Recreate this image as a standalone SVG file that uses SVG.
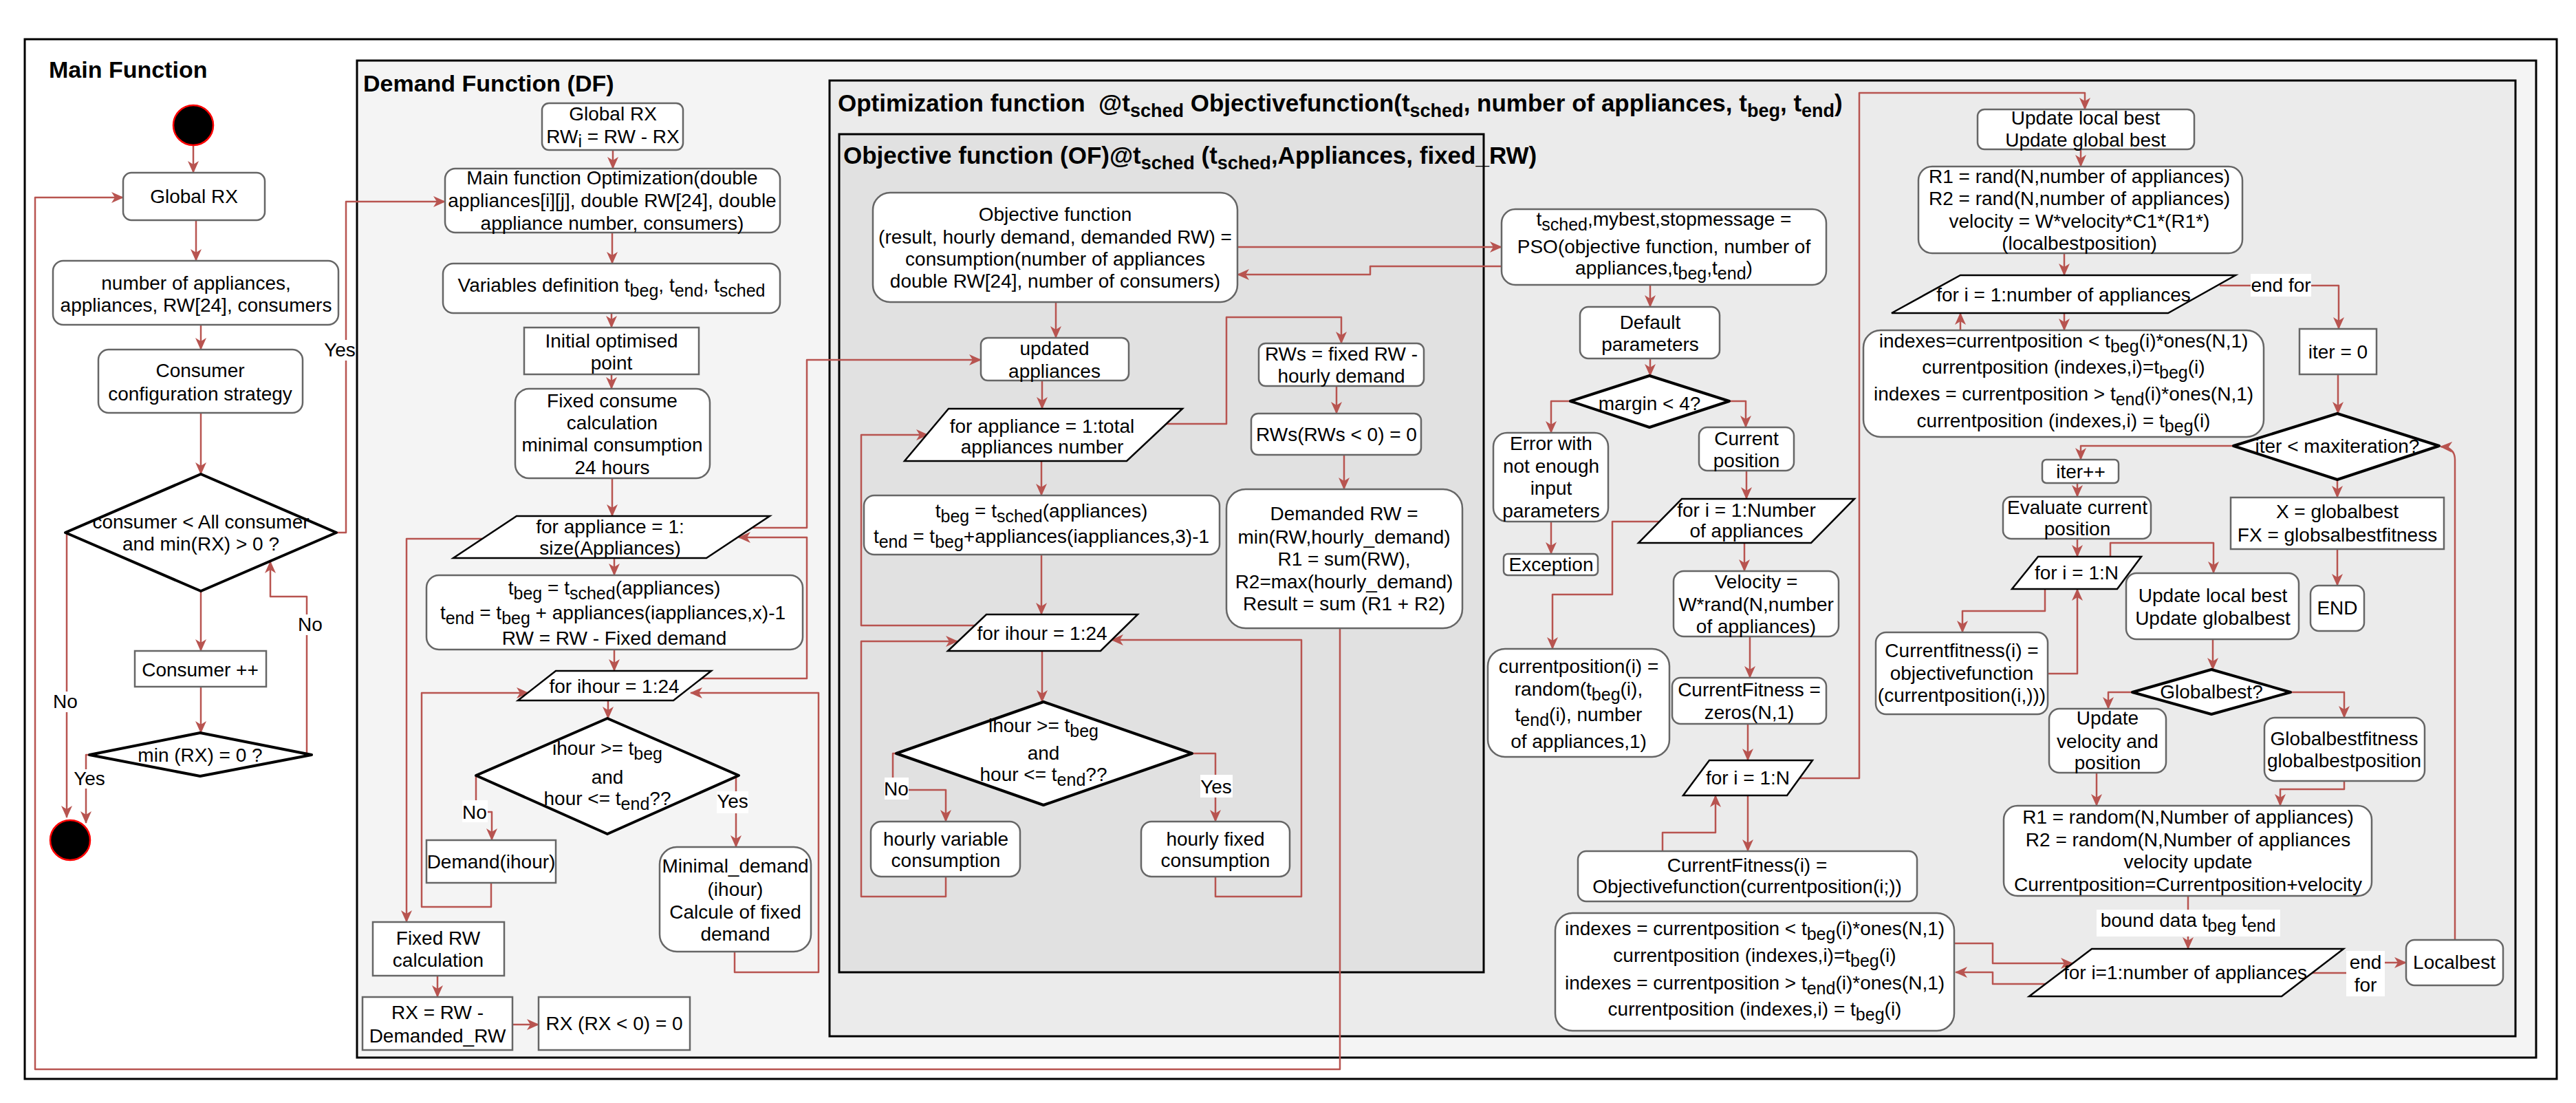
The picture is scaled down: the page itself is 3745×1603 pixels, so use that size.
<svg xmlns="http://www.w3.org/2000/svg" width="3745" height="1603" viewBox="0 0 3745 1603">
<defs>
<marker id="ar" viewBox="0 0 18 16" refX="17" refY="8" markerWidth="18" markerHeight="16" markerUnits="userSpaceOnUse" orient="auto">
<path d="M0,0 L18,8 L0,16 L5,8 z" fill="#b85450"/>
</marker>
<style>
text{font-family:"Liberation Sans",Arial,Helvetica,sans-serif;font-size:28px;fill:#000}
.m{text-anchor:middle}
.s{font-size:25px}
.h{font-weight:bold;font-size:34px}
.h2{font-weight:bold;font-size:35px}
.hs{font-size:27px}
.fr{stroke:#000;stroke-width:3}
.n{fill:#fff;stroke:#666;stroke-width:2.5}
.dm{fill:#fff;stroke:#000;stroke-width:4;stroke-linejoin:round}
.pg{fill:#fff;stroke:#000;stroke-width:2.5}
.c{fill:none;stroke:#b85450;stroke-width:2.5;stroke-linejoin:round;marker-end:url(#ar)}
.l{fill:none;stroke:#b85450;stroke-width:2.5;stroke-linejoin:round}
.lb{fill:#fff}
.term{fill:#000;stroke:#f00;stroke-width:2.5}
</style>
</defs>
<rect width="3745" height="1603" fill="#fff"/>

<g id="frames">
<rect x="36" y="57" width="3681" height="1511" fill="#fff" class="fr"/>
<text x="71" y="113" class="h">Main Function</text>
<rect x="519" y="88" width="3168" height="1449" fill="#f4f4f4" class="fr"/>
<text x="528" y="133" class="h">Demand Function (DF)</text>
<rect x="1206" y="117" width="2451" height="1389" fill="#ebebeb" class="fr"/>
<text x="1218" y="162" class="h2">Optimization function &#160;@t<tspan class="hs" dy="8">sched</tspan><tspan dy="-8"> Objectivefunction(t</tspan><tspan class="hs" dy="8">sched</tspan><tspan dy="-8">, number of appliances, t</tspan><tspan class="hs" dy="8">beg</tspan><tspan dy="-8">, t</tspan><tspan class="hs" dy="8">end</tspan><tspan dy="-8">)</tspan></text>
<rect x="1220" y="195" width="937" height="1218" fill="#e1e1e1" class="fr"/>
<text x="1226" y="238" class="h2">Objective function (OF)@t<tspan class="hs" dy="8">sched</tspan><tspan dy="-8"> (t</tspan><tspan class="hs" dy="8">sched</tspan><tspan dy="-8">,Appliances, fixed_RW)</tspan></text>
</g>

<g id="connectors">
<!-- main -->
<path d="M281,212 V251" class="c"/>
<path d="M285,320 V379" class="c"/>
<path d="M292,472 V508" class="c"/>
<path d="M292,600 V689" class="c"/>
<path d="M292,859 V946" class="c"/>
<path d="M292,998 V1065" class="c"/>
<path d="M453,1097 H446 V867 H393 V816" class="c"/>
<path d="M95,774 H97 V1188" class="c"/>
<path d="M130,1097 H125 V1196" class="c"/>
<path d="M489,774 H503 V293 H647" class="c"/>
<path d="M1948,913 V1554 H51 V287 H179" class="c"/>
<!-- DF -->
<path d="M891,218 V245" class="c"/>
<path d="M890,338 V383" class="c"/>
<path d="M889,455 V476" class="c"/>
<path d="M889,544 V565" class="c"/>
<path d="M890,695 V750" class="c"/>
<path d="M893,811 V836" class="c"/>
<path d="M893,944 V975" class="c"/>
<path d="M884,1018 V1044" class="c"/>
<path d="M692,1127 V1180 H715 V1221" class="c"/>
<path d="M714,1283 V1318 H613 V1007 H768" class="c"/>
<path d="M1074,1127 H1070 V1231" class="c"/>
<path d="M1068,1383 V1413 H1190 V1007 H1004" class="c"/>
<path d="M1020,986 H1173 V781 H1074" class="c"/>
<path d="M1094,767 H1173 V523 H1426" class="c"/>
<path d="M701,783 H591 V1340" class="c"/>
<path d="M636,1418 V1449" class="c"/>
<path d="M745,1489 H783" class="c"/>
<!-- OF -->
<path d="M1799,359 H2183" class="c"/>
<path d="M2183,387 H1992 V399 H1799" class="c"/>
<path d="M1535,439 V491" class="c"/>
<path d="M1515,553 V594" class="c"/>
<path d="M1695,616 H1783 V461 H1950 V499" class="c"/>
<path d="M1943,561 V601" class="c"/>
<path d="M1954,661 V711" class="c"/>
<path d="M1514,670 V720" class="c"/>
<path d="M1514,806 V893" class="c"/>
<path d="M1417,909 H1252 V632 H1349" class="c"/>
<path d="M1515,946 V1020" class="c"/>
<path d="M1303,1095 H1298 V1148 H1375 V1194" class="c"/>
<path d="M1375,1274 V1303 H1252 V932 H1392" class="c"/>
<path d="M1733,1095 H1767 V1194" class="c"/>
<path d="M1767,1274 V1303 H1892 V930 H1616" class="c"/>
<!-- PSO -->
<path d="M2399,414 V446" class="c"/>
<path d="M2399,521 V546" class="c"/>
<path d="M2283,583 H2255 V629" class="c"/>
<path d="M2255,758 V805" class="c"/>
<path d="M2514,583 H2538 V621" class="c"/>
<path d="M2539,684 V725" class="c"/>
<path d="M2413,758 H2344 V864 H2257 V943" class="c"/>
<path d="M2536,789 V830" class="c"/>
<path d="M2544,925 V985" class="c"/>
<path d="M2541,1052 V1105" class="c"/>
<path d="M2616,1131 H2703 V135 H3031 V159" class="c"/>
<path d="M2541,1156 V1237" class="c"/>
<path d="M2417,1237 V1210 H2494 V1156" class="c"/>
<path d="M2841,1371 H2897 V1400 H3013" class="c"/>
<path d="M2974,1430 H2897 V1413 H2843" class="c"/>
<!-- right column -->
<path d="M3025,217 V242" class="c"/>
<path d="M3001,368 V400" class="c"/>
<path d="M3227,415 H3400 V478" class="c"/>
<path d="M3001,455 V480" class="c"/>
<path d="M2850,480 V455" class="c"/>
<path d="M3399,544 V601" class="c"/>
<path d="M3247,648 H3025 V668" class="c"/>
<path d="M3020,702 V722" class="c"/>
<path d="M3020,783 V809" class="c"/>
<path d="M3068,809 V789 H3218 V833" class="c"/>
<path d="M2973,856 V888 H2853 V919" class="c"/>
<path d="M2977,979 H3020 V856" class="c"/>
<path d="M3217,929 V973" class="c"/>
<path d="M3100,1006 H3065 V1030" class="c"/>
<path d="M3330,1006 H3408 V1043" class="c"/>
<path d="M3048,1123 V1171" class="c"/>
<path d="M3408,1135 V1147 H3315 V1171" class="c"/>
<path d="M3398,697 V723" class="c"/>
<path d="M3398,798 V851" class="c"/>
<path d="M3181,1302 V1379" class="c"/>
<path d="M3361,1414 H3411" class="l"/>
<path d="M3467,1399 H3498" class="c"/>
<path d="M3569,1366 V668 Q3569,650 3548,649" class="c"/>
</g>

<g id="labels">
<rect x="472" y="494" width="44" height="30" class="lb"/><text x="494" y="518" class="m">Yes</text>
<rect x="432" y="893" width="38" height="30" class="lb"/><text x="451" y="917" class="m">No</text>
<rect x="76" y="1005" width="38" height="30" class="lb"/><text x="95" y="1029" class="m">No</text>
<rect x="107" y="1118" width="46" height="28" class="lb"/><text x="130" y="1141" class="m">Yes</text>
<rect x="672" y="1163" width="37" height="32" class="lb"/><text x="690" y="1190" class="m">No</text>
<rect x="1042" y="1150" width="46" height="32" class="lb"/><text x="1065" y="1174" class="m">Yes</text>
<rect x="1286" y="1130" width="35" height="32" class="lb"/><text x="1303" y="1156" class="m">No</text>
<rect x="1745" y="1126" width="47" height="33" class="lb"/><text x="1768" y="1153" class="m">Yes</text>
<rect x="3272" y="398" width="88" height="33" class="lb"/><text x="3316" y="424" class="m">end for</text>
<rect x="3048" y="1322" width="267" height="39" class="lb"/><text x="3181" y="1347" class="m">bound data t<tspan class="s" dy="7">beg</tspan><tspan dy="-7"> t</tspan><tspan class="s" dy="7">end</tspan></text>
<rect x="3411" y="1382" width="56" height="66" class="lb"/><text x="3439" y="1408" class="m">end</text><text x="3439" y="1441" class="m">for</text>
</g>

<!-- Main function nodes -->
<g id="main-start"><circle cx="281" cy="182" r="29" class="term"/></g>
<g id="main-global-rx"><rect x="179" y="251" width="206" height="69" rx="12" class="n"/><text x="282" y="295" class="m">Global RX</text></g>
<g id="main-inputs"><rect x="77" y="379" width="415" height="93" rx="15" class="n"/><text x="285" y="421" class="m">number of appliances,</text><text x="285" y="453" class="m">appliances, RW[24], consumers</text></g>
<g id="main-strategy"><rect x="143" y="508" width="297" height="92" rx="15" class="n"/><text x="291" y="548" class="m">Consumer</text><text x="291" y="582" class="m">configuration strategy</text></g>
<g id="main-decision1"><polygon points="292,689 489,774 292,859 95,774" class="dm"/><text x="292" y="768" class="m">consumer &lt; All consumer</text><text x="292" y="800" class="m">and min(RX) &gt; 0 ?</text></g>
<g id="main-consumer-inc"><rect x="196" y="946" width="191" height="52" class="n"/><text x="291" y="983" class="m">Consumer ++</text></g>
<g id="main-decision2"><polygon points="291,1065 453,1097 291,1128 130,1097" class="dm"/><text x="291" y="1107" class="m">min (RX) = 0 ?</text></g>
<g id="main-end"><circle cx="102" cy="1221" r="29" class="term"/></g>

<!-- DF nodes -->
<g id="df-global"><rect x="788" y="150" width="205" height="68" rx="10" class="n"/><text x="891" y="175" class="m">Global RX</text><text x="891" y="208" class="m">RW<tspan class="s" dy="6">i</tspan><tspan dy="-6"> = RW - RX</tspan></text></g>
<g id="df-mainopt"><rect x="647" y="245" width="487" height="93" rx="15" class="n"/><text x="890" y="268" class="m">Main function Optimization(double</text><text x="890" y="301" class="m">appliances[i][j], double RW[24], double</text><text x="890" y="334" class="m">appliance number, consumers)</text></g>
<g id="df-vars"><rect x="644" y="383" width="490" height="72" rx="15" class="n"/><text x="889" y="424" class="m">Variables definition t<tspan class="s" dy="7">beg</tspan><tspan dy="-7">, t</tspan><tspan class="s" dy="7">end</tspan><tspan dy="-7">, t</tspan><tspan class="s" dy="7">sched</tspan></text></g>
<g id="df-initial"><rect x="762" y="476" width="254" height="68" class="n"/><text x="889" y="505" class="m">Initial optimised</text><text x="889" y="537" class="m">point</text></g>
<g id="df-fixed"><rect x="749" y="565" width="283" height="130" rx="20" class="n"/><text x="890" y="592" class="m">Fixed consume</text><text x="890" y="624" class="m">calculation</text><text x="890" y="656" class="m">minimal consumption</text><text x="890" y="689" class="m">24 hours</text></g>
<g id="df-for-appliance"><polygon points="751,750 1119,750 1027,811 659,811" class="pg"/><text x="887" y="775" class="m">for appliance = 1:</text><text x="887" y="806" class="m">size(Appliances)</text></g>
<g id="df-tbeg"><rect x="620" y="836" width="547" height="108" rx="18" class="n"/><text x="893" y="864" class="m">t<tspan class="s" dy="7">beg</tspan><tspan dy="-7"> = t</tspan><tspan class="s" dy="7">sched</tspan><tspan dy="-7">(appliances)</tspan></text><text x="891" y="900" class="m">t<tspan class="s" dy="7">end</tspan><tspan dy="-7"> = t</tspan><tspan class="s" dy="7">beg</tspan><tspan dy="-7"> + appliances(iappliances,x)-1</tspan></text><text x="893" y="937" class="m">RW = RW - Fixed demand</text></g>
<g id="df-for-ihour"><polygon points="808,975 1034,975 979,1018 753,1018" class="pg"/><text x="893" y="1007" class="m">for ihour = 1:24</text></g>
<g id="df-decision"><polygon points="883,1044 1074,1127 883,1212 692,1127" class="dm"/><text x="883" y="1097" class="m">ihour &gt;= t<tspan class="s" dy="7">beg</tspan></text><text x="883" y="1139" class="m">and</text><text x="883" y="1170" class="m">hour &lt;= t<tspan class="s" dy="7">end</tspan><tspan dy="-7">??</tspan></text></g>
<g id="df-demand"><rect x="620" y="1221" width="188" height="62" class="n"/><text x="714" y="1262" class="m">Demand(ihour)</text></g>
<g id="df-minimal"><rect x="959" y="1231" width="220" height="152" rx="25" class="n"/><text x="1069" y="1268" class="m">Minimal_demand</text><text x="1069" y="1302" class="m">(ihour)</text><text x="1069" y="1335" class="m">Calcule of fixed</text><text x="1069" y="1367" class="m">demand</text></g>
<g id="df-fixedrw"><rect x="542" y="1340" width="191" height="78" class="n"/><text x="637" y="1373" class="m">Fixed RW</text><text x="637" y="1405" class="m">calculation</text></g>
<g id="df-rx"><rect x="527" y="1449" width="218" height="77" class="n"/><text x="636" y="1481" class="m">RX = RW -</text><text x="636" y="1515" class="m">Demanded_RW</text></g>
<g id="df-rx0"><rect x="783" y="1449" width="220" height="77" class="n"/><text x="893" y="1497" class="m">RX (RX &lt; 0) = 0</text></g>

<!-- OF nodes -->
<g id="of-objective"><rect x="1269" y="280" width="530" height="159" rx="25" class="n"/><text x="1534" y="321" class="m">Objective function</text><text x="1534" y="354" class="m">(result, hourly demand, demanded RW) =</text><text x="1534" y="386" class="m">consumption(number of appliances</text><text x="1534" y="418" class="m">double RW[24], number of consumers)</text></g>
<g id="of-updated"><rect x="1426" y="491" width="215" height="62" rx="10" class="n"/><text x="1533" y="516" class="m">updated</text><text x="1533" y="549" class="m">appliances</text></g>
<g id="of-for-appliance"><polygon points="1379,594 1719,594 1638,670 1315,670" class="pg"/><text x="1515" y="629" class="m">for appliance = 1:total</text><text x="1515" y="659" class="m">appliances number</text></g>
<g id="of-rws"><rect x="1830" y="499" width="240" height="62" rx="10" class="n"/><text x="1950" y="524" class="m">RWs = fixed RW -</text><text x="1950" y="556" class="m">hourly demand</text></g>
<g id="of-rws0"><rect x="1819" y="601" width="247" height="60" rx="10" class="n"/><text x="1943" y="641" class="m">RWs(RWs &lt; 0) = 0</text></g>
<g id="of-demanded"><rect x="1783" y="711" width="343" height="202" rx="28" class="n"/><text x="1954" y="756" class="m">Demanded RW =</text><text x="1954" y="790" class="m">min(RW,hourly_demand)</text><text x="1954" y="822" class="m">R1 = sum(RW),</text><text x="1954" y="855" class="m">R2=max(hourly_demand)</text><text x="1954" y="887" class="m">Result = sum (R1 + R2)</text></g>
<g id="of-tbeg"><rect x="1256" y="720" width="517" height="86" rx="15" class="n"/><text x="1514" y="752" class="m">t<tspan class="s" dy="7">beg</tspan><tspan dy="-7"> = t</tspan><tspan class="s" dy="7">sched</tspan><tspan dy="-7">(appliances)</tspan></text><text x="1514" y="789" class="m">t<tspan class="s" dy="7">end</tspan><tspan dy="-7"> = t</tspan><tspan class="s" dy="7">beg</tspan><tspan dy="-7">+appliances(iappliances,3)-1</tspan></text></g>
<g id="of-for-ihour"><polygon points="1434,893 1654,893 1600,946 1378,946" class="pg"/><text x="1515" y="930" class="m">for ihour = 1:24</text></g>
<g id="of-decision"><polygon points="1517,1020 1733,1095 1517,1170 1303,1095" class="dm"/><text x="1517" y="1064" class="m">ihour &gt;= t<tspan class="s" dy="7">beg</tspan></text><text x="1517" y="1104" class="m">and</text><text x="1517" y="1135" class="m">hour &lt;= t<tspan class="s" dy="7">end</tspan><tspan dy="-7">??</tspan></text></g>
<g id="of-variable"><rect x="1266" y="1194" width="217" height="80" rx="15" class="n"/><text x="1375" y="1229" class="m">hourly variable</text><text x="1375" y="1260" class="m">consumption</text></g>
<g id="of-fixedcons"><rect x="1659" y="1194" width="216" height="80" rx="15" class="n"/><text x="1767" y="1229" class="m">hourly fixed</text><text x="1767" y="1260" class="m">consumption</text></g>

<!-- PSO column -->
<g id="pso-call"><rect x="2183" y="304" width="472" height="110" rx="20" class="n"/><text x="2419" y="328" class="m">t<tspan class="s" dy="7">sched</tspan><tspan dy="-7">,mybest,stopmessage =</tspan></text><text x="2419" y="368" class="m">PSO(objective function, number of</text><text x="2419" y="399" class="m">appliances,t<tspan class="s" dy="7">beg</tspan><tspan dy="-7">,t</tspan><tspan class="s" dy="7">end</tspan><tspan dy="-7">)</tspan></text></g>
<g id="pso-default"><rect x="2297" y="446" width="203" height="75" rx="12" class="n"/><text x="2399" y="478" class="m">Default</text><text x="2399" y="510" class="m">parameters</text></g>
<g id="pso-margin"><polygon points="2398,546 2514,583 2398,621 2283,583" class="dm"/><text x="2398" y="596" class="m">margin &lt; 4?</text></g>
<g id="pso-error"><rect x="2171" y="629" width="167" height="129" rx="20" class="n"/><text x="2255" y="654" class="m">Error with</text><text x="2255" y="687" class="m">not enough</text><text x="2255" y="719" class="m">input</text><text x="2255" y="752" class="m">parameters</text></g>
<g id="pso-exception"><rect x="2186" y="805" width="137" height="31" rx="6" class="n"/><text x="2255" y="830" class="m">Exception</text></g>
<g id="pso-current"><rect x="2470" y="621" width="138" height="63" rx="12" class="n"/><text x="2539" y="647" class="m">Current</text><text x="2539" y="679" class="m">position</text></g>
<g id="pso-for-i"><polygon points="2445,725 2696,725 2633,789 2382,789" class="pg"/><text x="2539" y="751" class="m">for i = 1:Number</text><text x="2539" y="781" class="m">of appliances</text></g>
<g id="pso-velocity"><rect x="2433" y="830" width="240" height="95" rx="15" class="n"/><text x="2553" y="855" class="m">Velocity =</text><text x="2553" y="888" class="m">W*rand(N,number</text><text x="2553" y="920" class="m">of appliances)</text></g>
<g id="pso-currentposition"><rect x="2163" y="943" width="264" height="157" rx="25" class="n"/><text x="2295" y="978" class="m">currentposition(i) =</text><text x="2295" y="1011" class="m">random(t<tspan class="s" dy="7">beg</tspan><tspan dy="-7">(i),</tspan></text><text x="2295" y="1048" class="m">t<tspan class="s" dy="7">end</tspan><tspan dy="-7">(i), number</tspan></text><text x="2295" y="1087" class="m">of appliances,1)</text></g>
<g id="pso-fitness"><rect x="2431" y="985" width="224" height="67" rx="12" class="n"/><text x="2543" y="1012" class="m">CurrentFitness =</text><text x="2543" y="1045" class="m">zeros(N,1)</text></g>
<g id="pso-for-n"><polygon points="2485,1105 2635,1105 2598,1156 2447,1156" class="pg"/><text x="2541" y="1140" class="m">for i = 1:N</text></g>
<g id="pso-fitness-i"><rect x="2294" y="1237" width="493" height="73" rx="12" class="n"/><text x="2540" y="1267" class="m">CurrentFitness(i) =</text><text x="2540" y="1298" class="m">Objectivefunction(currentposition(i;))</text></g>
<g id="pso-indexes"><rect x="2261" y="1327" width="580" height="171" rx="25" class="n"/><text x="2551" y="1359" class="m">indexes = currentposition &lt; t<tspan class="s" dy="7">beg</tspan><tspan dy="-7">(i)*ones(N,1)</tspan></text><text x="2551" y="1398" class="m">currentposition (indexes,i)=t<tspan class="s" dy="7">beg</tspan><tspan dy="-7">(i)</tspan></text><text x="2551" y="1438" class="m">indexes = currentposition &gt; t<tspan class="s" dy="7">end</tspan><tspan dy="-7">(i)*ones(N,1)</tspan></text><text x="2551" y="1476" class="m">currentposition (indexes,i) = t<tspan class="s" dy="7">beg</tspan><tspan dy="-7">(i)</tspan></text></g>

<!-- right column -->
<g id="r-update"><rect x="2875" y="159" width="315" height="58" rx="10" class="n"/><text x="3032" y="181" class="m">Update local best</text><text x="3032" y="213" class="m">Update global best</text></g>
<g id="r-r1"><rect x="2789" y="242" width="471" height="126" rx="20" class="n"/><text x="3023" y="266" class="m">R1 = rand(N,number of appliances)</text><text x="3023" y="298" class="m">R2 = rand(N,number of appliances)</text><text x="3023" y="331" class="m">velocity = W*velocity*C1*(R1*)</text><text x="3023" y="363" class="m">(localbestposition)</text></g>
<g id="r-for-app"><polygon points="2850,400 3250,400 3152,455 2750,455" class="pg"/><text x="3000" y="438" class="m">for i = 1:number of appliances</text></g>
<g id="r-indexes"><rect x="2709" y="480" width="582" height="155" rx="25" class="n"/><text x="3000" y="505" class="m">indexes=currentposition &lt; t<tspan class="s" dy="7">beg</tspan><tspan dy="-7">(i)*ones(N,1)</tspan></text><text x="3000" y="543" class="m">currentposition (indexes,i)=t<tspan class="s" dy="7">beg</tspan><tspan dy="-7">(i)</tspan></text><text x="3000" y="582" class="m">indexes = currentposition &gt; t<tspan class="s" dy="7">end</tspan><tspan dy="-7">(i)*ones(N,1)</tspan></text><text x="3000" y="621" class="m">currentposition (indexes,i) = t<tspan class="s" dy="7">beg</tspan><tspan dy="-7">(i)</tspan></text></g>
<g id="r-iter0"><rect x="3343" y="478" width="112" height="66" class="n"/><text x="3399" y="521" class="m">iter = 0</text></g>
<g id="r-maxiter"><polygon points="3398,601 3546,648 3398,697 3247,648" class="dm"/><text x="3398" y="658" class="m">iter &lt; maxiteration?</text></g>
<g id="r-iterpp"><rect x="2969" y="668" width="111" height="34" rx="6" class="n"/><text x="3025" y="695" class="m">iter++</text></g>
<g id="r-evaluate"><rect x="2912" y="722" width="215" height="61" rx="12" class="n"/><text x="3020" y="747" class="m">Evaluate current</text><text x="3020" y="778" class="m">position</text></g>
<g id="r-for-n"><polygon points="2963,809 3113,809 3078,856 2925,856" class="pg"/><text x="3019" y="842" class="m">for i = 1:N</text></g>
<g id="r-currentfitness"><rect x="2727" y="919" width="250" height="119" rx="15" class="n"/><text x="2852" y="955" class="m">Currentfitness(i) =</text><text x="2852" y="988" class="m">objectivefunction</text><text x="2852" y="1020" class="m">(currentposition(i,)))</text></g>
<g id="r-update2"><rect x="3091" y="833" width="251" height="96" rx="15" class="n"/><text x="3217" y="875" class="m">Update local best</text><text x="3217" y="908" class="m">Update globalbest</text></g>
<g id="r-xglobal"><rect x="3243" y="723" width="310" height="75" class="n"/><text x="3398" y="753" class="m">X = globalbest</text><text x="3398" y="787" class="m">FX = globsalbestfitness</text></g>
<g id="r-end"><rect x="3359" y="851" width="78" height="66" rx="12" class="n"/><text x="3398" y="893" class="m">END</text></g>
<g id="r-globalbest"><polygon points="3215,973 3330,1006 3215,1038 3100,1006" class="dm"/><text x="3215" y="1015" class="m">Globalbest?</text></g>
<g id="r-updvel"><rect x="2979" y="1030" width="170" height="93" rx="15" class="n"/><text x="3064" y="1053" class="m">Update</text><text x="3064" y="1087" class="m">velocity and</text><text x="3064" y="1118" class="m">position</text></g>
<g id="r-gbfit"><rect x="3292" y="1043" width="233" height="92" rx="15" class="n"/><text x="3408" y="1083" class="m">Globalbestfitness</text><text x="3408" y="1115" class="m">globalbestposition</text></g>
<g id="r-random"><rect x="2913" y="1171" width="535" height="131" rx="20" class="n"/><text x="3181" y="1197" class="m">R1 = random(N,Number of appliances)</text><text x="3181" y="1230" class="m">R2 = random(N,Number of appliances</text><text x="3181" y="1262" class="m">velocity update</text><text x="3181" y="1295" class="m">Currentposition=Currentposition+velocity</text></g>
<g id="r-for-bound"><polygon points="3041,1379 3407,1379 3317,1448 2950,1448" class="pg"/><text x="3177" y="1423" class="m">for i=1:number of appliances</text></g>
<g id="r-localbest"><rect x="3498" y="1366" width="141" height="66" rx="12" class="n"/><text x="3568" y="1408" class="m">Localbest</text></g>
</svg>
